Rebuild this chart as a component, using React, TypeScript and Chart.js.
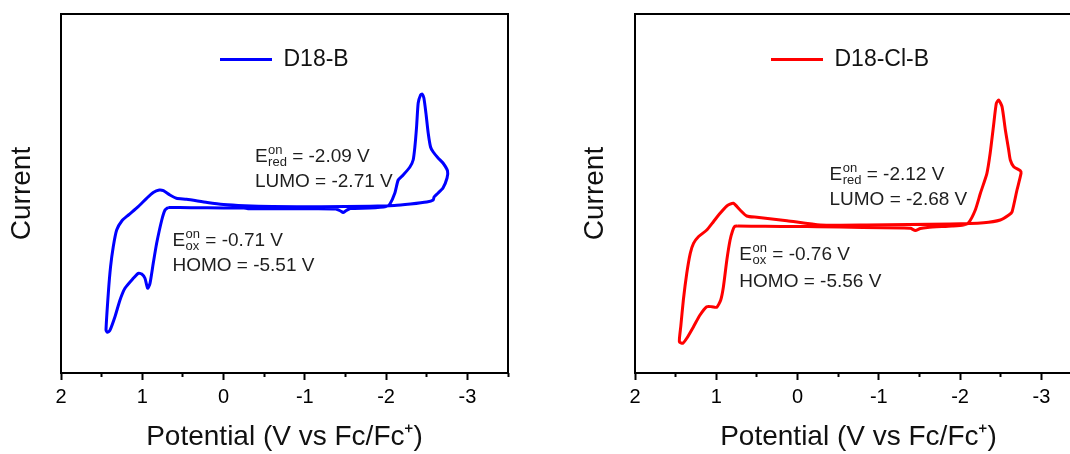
import React, { useEffect, useRef } from 'react';
import { Chart, registerables } from 'chart.js';

Chart.register(...registerables);

const FONT = '"Liberation Sans", Arial, Helvetica, sans-serif';

// ---- data (potential in V vs Fc/Fc+, current in arbitrary units) ----
const d18bPotential = [
  0.68, 0.4, 0.0, -0.25, -0.3, -0.6, -1.0, -1.38, -1.44, -1.47, -1.51, -1.56, -1.8, -2.0, -2.047,
  -2.108, -2.149, -2.21, -2.293, -2.333, -2.354, -2.375, -2.395, -2.424, -2.444, -2.465, -2.49,
  -2.518, -2.547, -2.58, -2.64, -2.7, -2.756, -2.75, -2.7, -2.64, -2.59, -2.58, -2.5, -2.3, -2.1,
  -1.8, -1.2, -0.6, -0.26, 0.0, 0.2, 0.455, 0.58, 0.66, 0.74, 0.79, 0.865, 0.946, 1.05, 1.17, 1.25,
  1.315, 1.357, 1.39, 1.418, 1.446, 1.43, 1.4, 1.336, 1.274, 1.213, 1.11, 1.05, 1.007, 0.967, 0.934,
  0.905, 0.865, 0.823, 0.76, 0.72, 0.68,
];
const d18bCurrent = [
  -0.05, -0.07, -0.1, -0.1, -0.17, -0.18, -0.18, -0.2, -0.4, -0.55, -0.35, -0.15, -0.1, 0.05, 0.3,
  1.4, 2.7, 3.2, 4.0, 4.7, 6.0, 8.0, 10.4, 11.2, 11.3, 10.9, 9.4,
  7.4, 6.0, 5.5, 4.9, 4.4, 3.6, 2.9, 1.9, 1.4, 1.0, 0.7, 0.5, 0.3, 0.15,
  0.08, 0.02, 0.05, 0.13, 0.25, 0.45, 0.77, 0.87, 1.2, 1.63, 1.7, 1.45, 0.87, 0.03, -0.8, -1.37,
  -2.3, -3.97, -5.97, -8.63, -12.3, -12.53, -12.37, -10.97, -9.3, -8.13, -7.13, -6.63, -6.7, -7.13, -8.13,
  -7.63, -5.63, -3.63, -1.3, -0.3, -0.05,
];

const d18clbPotential = [
  0.74, 0.4, 0.0, -0.24, -0.8, -1.3, -1.39, -1.45, -1.51, -1.6, -1.9, -2.04, -2.105, -2.187, -2.25,
  -2.33, -2.37, -2.41, -2.446, -2.475, -2.516, -2.557, -2.598, -2.618, -2.66, -2.74, -2.75, -2.7,
  -2.64, -2.6, -2.495, -2.29, -1.88, -0.85, -0.28, 0.13, 0.5, 0.625, 0.707, 0.79, 0.87, 0.953, 1.035,
  1.117, 1.22, 1.28, 1.32, 1.363, 1.405, 1.437, 1.454, 1.413, 1.363, 1.28, 1.2, 1.117, 1.055, 0.994,
  0.945, 0.912, 0.87, 0.83, 0.8, 0.775, 0.74,
];
const d18clbCurrent = [
  -1.9, -1.93, -1.95, -1.97, -2.05, -2.1, -2.13, -2.35, -2.15, -2.05, -1.9, -1.8, -1.57, -0.3, 1.37,
  3.37, 5.37, 8.03, 10.37, 10.7, 10.03, 7.7, 5.7, 4.7, 4.03, 3.63, 3.37, 1.7,
  -0.47, -0.8, -1.3, -1.57, -1.7, -1.8, -1.8, -1.37, -1.03, -0.9, -0.3, 0.37, 0.1, -0.63, -1.47,
  -2.3, -2.97, -3.63, -4.63, -6.63, -9.3, -11.97, -13.47, -13.63, -13.13, -11.97, -10.8, -9.97, -9.97, -10.03,
  -9.3, -7.97, -5.3, -3.3, -2.4, -1.95, -1.9,
];

const xMin = -3.5;
const xMax = 2;
const yMin = -16.6;
const yMax = 19.3;
const xTitle = 'Potential (V vs Fc/Fc\u207A)';
const yTitle = 'Current';

type Note = { x: number; y: number; main: string; sup?: string; sub?: string; rest?: string };

const d18bNotes: Note[] = [
  { x: -0.386, y: 4.5, main: 'E', sup: 'on', sub: 'red', rest: ' = -2.09 V' },
  { x: -0.386, y: 2.0, main: 'LUMO = -2.71 V' },
  { x: 0.629, y: -3.85, main: 'E', sup: 'on', sub: 'ox', rest: ' = -0.71 V' },
  { x: 0.629, y: -6.4, main: 'HOMO = -5.51 V' },
];
const d18clbNotes: Note[] = [
  { x: -0.393, y: 2.7, main: 'E', sup: 'on', sub: 'red', rest: ' = -2.12 V' },
  { x: -0.393, y: 0.2, main: 'LUMO = -2.68 V' },
  { x: 0.716, y: -5.3, main: 'E', sup: 'on', sub: 'ox', rest: ' = -0.76 V' },
  { x: 0.716, y: -7.95, main: 'HOMO = -5.56 V' },
];

function makeNotesPlugin(notes: Note[]) {
  return {
    id: 'notes',
    afterDatasetsDraw(chart: any) {
      const { ctx } = chart;
      const xs = chart.scales.x;
      const ys = chart.scales.y;
      ctx.save();
      ctx.fillStyle = '#1e1e1e';
      ctx.textAlign = 'left';
      ctx.textBaseline = 'alphabetic';
      for (const n of notes) {
        let px = xs.getPixelForValue(n.x);
        const py = ys.getPixelForValue(n.y);
        ctx.font = `19px ${FONT}`;
        ctx.fillText(n.main, px, py);
        px += ctx.measureText(n.main).width;
        if (n.sup || n.sub) {
          ctx.font = `13px ${FONT}`;
          let w = 0;
          if (n.sup) {
            ctx.fillText(n.sup, px + 0.5, py - 8);
            w = Math.max(w, ctx.measureText(n.sup).width);
          }
          if (n.sub) {
            ctx.fillText(n.sub, px + 0.5, py + 4);
            w = Math.max(w, ctx.measureText(n.sub).width);
          }
          px += w + 0.5;
        }
        if (n.rest) {
          ctx.font = `19px ${FONT}`;
          ctx.fillText(n.rest, px, py);
        }
      }
      ctx.restore();
    },
  };
}

const framePlugin = {
  id: 'frame',
  afterDatasetsDraw(chart: any) {
    const { ctx, chartArea: a } = chart;
    ctx.save();
    ctx.strokeStyle = '#000';
    ctx.lineWidth = 2;
    ctx.strokeRect(a.left, a.top, a.right - a.left, a.bottom - a.top);
    ctx.restore();
  },
};

function makeLegendShift(dx: number, dy: number) {
  return {
    id: 'legendShift',
    afterLayout(chart: any) {
      if (chart.legend) {
        chart.legend.left += dx;
        chart.legend.right += dx;
        chart.legend.top += dy;
        chart.legend.bottom += dy;
      }
    },
  };
}

type PanelProps = {
  left: number;
  label: string;
  color: string;
  potential: number[];
  current: number[];
  notes: Note[];
  yAxisWidth: number;
  yTitlePad: number;
  padRight: number;
  legendDx: number;
};

function Panel(p: PanelProps) {
  const ref = useRef<HTMLCanvasElement | null>(null);
  useEffect(() => {
    if (!ref.current) return;
    const points = p.potential.map((v, i) => ({ x: v, y: p.current[i] }));
    const chart = new Chart(ref.current, {
      type: 'scatter',
      data: {
        datasets: [
          {
            label: p.label,
            data: points,
            showLine: true,
            borderColor: p.color,
            backgroundColor: p.color,
            borderWidth: 3,
            pointRadius: 0,
            tension: 0.2,
            fill: false,
          },
        ],
      },
      options: {
        animation: false,
        responsive: false,
        devicePixelRatio: 1,
        events: [],
        layout: { padding: { left: 0, top: 14, right: p.padRight, bottom: 0 } },
        scales: {
          x: {
            type: 'linear',
            reverse: true,
            min: xMin,
            max: xMax,
            border: { display: false },
            grid: {
              display: true,
              drawOnChartArea: false,
              drawTicks: true,
              tickLength: 7,
              tickWidth: 2,
              tickColor: '#000',
              tickBorderDash: (c: any) =>
                c.tick && Number.isInteger(c.tick.value) ? [] : [4, 30],
            } as any,
            ticks: {
              stepSize: 0.5,
              autoSkip: false,
              maxRotation: 0,
              padding: 5,
              color: '#000',
              font: { family: FONT, size: 20 },
              callback: (v: any) => (Number.isInteger(Number(v)) ? String(Number(v) + 0) : ''),
            },
            title: {
              display: true,
              text: xTitle,
              color: '#111',
              font: { family: FONT, size: 28 },
              padding: { top: 0, bottom: 0 },
            },
            afterFit: (s: any) => {
              s.height = 81;
            },
          },
          y: {
            type: 'linear',
            min: yMin,
            max: yMax,
            border: { display: false },
            grid: { display: false },
            ticks: { display: false },
            title: {
              display: true,
              text: yTitle,
              color: '#111',
              font: { family: FONT, size: 28 },
              padding: { top: p.yTitlePad, bottom: 0 },
            },
            afterFit: (s: any) => {
              s.width = p.yAxisWidth;
            },
          },
        },
        plugins: {
          tooltip: { enabled: false },
          legend: {
            display: true,
            position: 'chartArea' as any,
            align: 'start',
            labels: {
              boxWidth: 52,
              boxHeight: 3,
              padding: 34,
              color: '#111',
              font: { family: FONT, size: 23 },
              generateLabels: (ch: any) =>
                (Chart.defaults.plugins.legend.labels.generateLabels as any)(ch).map((l: any) => ({
                  ...l,
                  lineWidth: 0,
                  fillStyle: p.color,
                  strokeStyle: p.color,
                })),
            },
          },
        },
      },
      plugins: [framePlugin, makeNotesPlugin(p.notes), makeLegendShift(p.legendDx, 14)],
    } as any);
    return () => chart.destroy();
  }, []);
  return (
    <canvas
      ref={ref}
      width={540}
      height={454}
      style={{ position: 'absolute', left: p.left, top: 0, width: 540, height: 454 }}
    />
  );
}

export default function App() {
  return (
    <div
      style={{
        position: 'fixed',
        left: 0,
        top: 0,
        width: 1070,
        height: 454,
        overflow: 'hidden',
        background: '#fff',
      }}
    >
      <Panel
        left={0}
        label="D18-B"
        color="rgb(0,0,255)"
        potential={d18bPotential}
        current={d18bCurrent}
        notes={d18bNotes}
        yAxisWidth={61}
        yTitlePad={5}
        padRight={32}
        legendDx={125}
      />
      <Panel
        left={560}
        label="D18-Cl-B"
        color="rgb(255,0,0)"
        potential={d18clbPotential}
        current={d18clbCurrent}
        notes={d18clbNotes}
        yAxisWidth={75}
        yTitlePad={18}
        padRight={18}
        legendDx={102}
      />
    </div>
  );
}
